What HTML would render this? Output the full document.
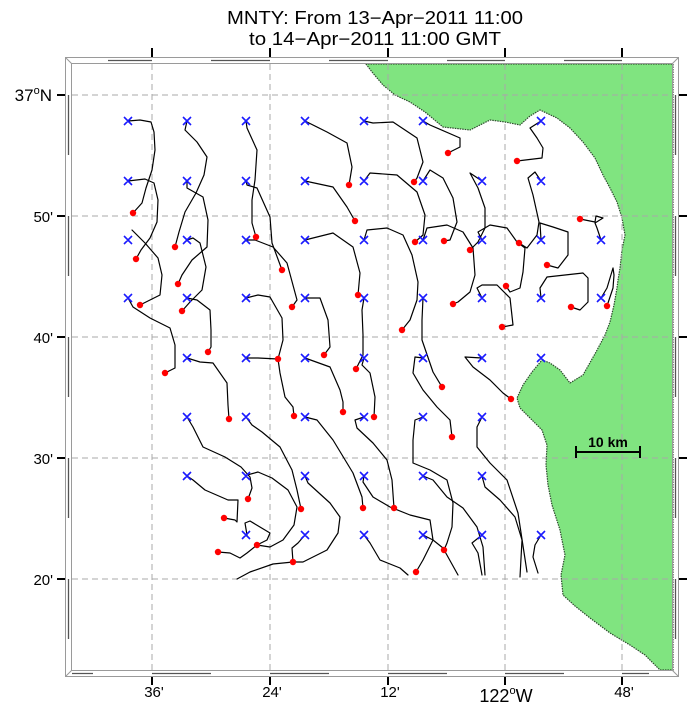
<!DOCTYPE html>
<html><head><meta charset="utf-8"><style>
html,body{margin:0;padding:0;background:#fff;}
svg{display:block;font-family:"Liberation Sans",Arial,sans-serif;}
</style></head><body>
<svg width="691" height="710" viewBox="0 0 691 710" xmlns="http://www.w3.org/2000/svg">
<rect width="691" height="710" fill="#fff"/>
<!-- title -->
<text x="375" y="24" font-size="18" text-anchor="middle" textLength="296" lengthAdjust="spacingAndGlyphs">MNTY: From 13−Apr−2011 11:00</text>
<text x="375" y="45" font-size="18" text-anchor="middle" textLength="252" lengthAdjust="spacingAndGlyphs">to 14−Apr−2011 11:00 GMT</text>

<!-- land -->
<path d="M366,64 L372,72 L383,85 L395,95 L410,102 L425,112 L443,127 L470,130 L490,120 L505,122 L520,125 L530,116 L540,110 L557,118 L570,128 L583,142 L595,158 L603,175 L610,188 L617,202 L622,218 L625,235 L622,250 L620,268 L618,280 L617,288 L614,305 L610,322 L605,335 L596,352 L583,375 L570,383 L560,370 L550,363 L542,360 L532,372 L523,385 L517,398 L520,408 L530,418 L542,430 L547,445 L546,465 L548,485 L552,505 L560,530 L565,555 L561,575 L563,595 L575,606 L590,618 L610,633 L630,645 L645,655 L655,665 L660,670 L673,670 L673,64 Z" fill="#80e480" stroke="#2e4a2e" stroke-width="1.2" stroke-dasharray="1.5,1"/>

<!-- grid -->
<g stroke="#a8a8a8" stroke-width="1" stroke-dasharray="6,4" fill="none">
<path d="M152,64V670M270,64V670M388,64V670M505,64V670M622,64V670"/>
<path d="M72,95H673M72,216H673M72,337H673M72,458H673M72,579H673"/>
</g>

<!-- frame -->
<g fill="none" stroke="#9a9a9a" stroke-width="1">
<rect x="65.5" y="57.5" width="613" height="619"/>
<rect x="71.5" y="63.5" width="601" height="607"/>
<path d="M65.5,57.5L71.5,63.5M678.5,57.5L672.5,63.5M65.5,676.5L71.5,670.5M678.5,676.5L672.5,670.5"/>
</g>
<g stroke="#555" stroke-width="1.3">
<path d="M108,60.5H152M211,60.5H270M329,60.5H388M447,60.5H505M564,60.5H622"/>
<path d="M72,673.5H93M152,673.5H211M270,673.5H329M388,673.5H447M505,673.5H564M622,673.5H649"/>
<path d="M68.5,95V155M68.5,216V276M68.5,337V397M68.5,458V518M68.5,579V639"/>
<path d="M675.5,95V155M675.5,216V276M675.5,337V397M675.5,458V518M675.5,579V639"/>
</g>
<!-- ticks -->
<g stroke="#000" stroke-width="2">
<path d="M152,48V57M270,48V57M388,48V57M505,48V57M622,48V57"/>
<path d="M152,677V685M270,677V685M388,677V685M505,677V685M622,677V685"/>
<path d="M57,95H65M57,216H65M57,337H65M57,458H65M57,579H65"/>
<path d="M679,95H687M679,216H687M679,337H687M679,458H687M679,579H687"/>
</g>
<!-- axis labels -->
<g font-size="15">
<text x="52" y="101" text-anchor="end" font-size="17">37<tspan font-size="11" dy="-7">o</tspan><tspan dy="7">N</tspan></text>
<text x="53" y="222" text-anchor="end">50'</text>
<text x="53" y="343" text-anchor="end">40'</text>
<text x="53" y="464" text-anchor="end">30'</text>
<text x="53" y="585" text-anchor="end">20'</text>
<text x="154" y="697" text-anchor="middle">36'</text>
<text x="272" y="697" text-anchor="middle">24'</text>
<text x="390" y="697" text-anchor="middle">12'</text>
<text x="506" y="702" text-anchor="middle" font-size="18">122<tspan font-size="11" dy="-8">o</tspan><tspan dy="8">W</tspan></text>
<text x="624" y="697" text-anchor="middle">48'</text>
</g>

<!-- trajectories -->
<g fill="none" stroke="#000" stroke-width="1.2" stroke-linejoin="round" stroke-linecap="round">
<polyline points="128,121 140,120 151,122 154,132 155,150 152,170 146,188 142,203 133,213"/>
<polyline points="128,181 145,179 154,183 158,200 157,222 150,238 141,250 136,259"/>
<polyline points="132,230 145,243 158,258 162,275 160,295 150,300 140,305"/>
<polyline points="128,298 133,307 150,318 170,328 175,345 175,368 165,373"/>
<polyline points="187,121 185,130 197,142 207,157 204,175 196,193 185,212 179,232 175,247"/>
<polyline points="187,181 187,188 203,197 208,220 207,247 192,260 182,275 178,284"/>
<polyline points="187,240 193,238 200,243 206,267 202,290 190,302 182,311"/>
<polyline points="187,298 197,300 210,310 211,330 211,347 208,352"/>
<polyline points="187,358 200,362 213,363 227,383 228,405 229,419"/>
<polyline points="246,121 247,128 257,150 255,180 252,200 252,223 256,237"/>
<polyline points="246,181 247,185 257,188 270,217 272,243 282,270"/>
<polyline points="246,240 255,240 273,247 287,263 297,300 292,307"/>
<polyline points="246,298 258,295 270,297 282,318 283,340 278,359"/>
<polyline points="246,358 258,358 278,359 280,373 285,397 293,407 294,416"/>
<polyline points="246,417 252,425 262,432 280,447 292,470 297,490 301,509"/>
<polyline points="187,417 193,427 203,447 225,457 241,467 250,477 252,488 248,499"/>
<polyline points="187,476 193,480 205,490 228,500 238,500 237,522 235,520 224,518"/>
<polyline points="247,475 258,472 272,478 288,490 297,507 294,525 283,540 270,547 257,545"/>
<polyline points="247,535 245,523 250,521 270,533 267,540 257,545 247,553 240,558 230,553 218,552"/>
<polyline points="305,121 327,132 347,143 352,167 349,185"/>
<polyline points="305,181 333,187 347,207 355,221"/>
<polyline points="305,240 333,233 353,247 360,273 358,295"/>
<polyline points="305,298 320,298 328,320 330,347 324,355"/>
<polyline points="305,358 330,367 340,390 343,402 343,412"/>
<polyline points="305,417 317,420 333,440 353,473 362,497 363,508"/>
<polyline points="305,476 308,483 330,503 340,517 338,533 327,550 303,562 293,562 273,564 250,572 237,579"/>
<polyline points="305,535 298,543 292,548 293,562"/>
<polyline points="364,121 373,123 393,122 417,138 423,162 417,178 414,182"/>
<polyline points="364,181 370,173 397,175 417,192 425,215 423,235 415,242"/>
<polyline points="364,240 367,230 387,228 403,235 412,255 418,282 417,300 410,320 402,330"/>
<polyline points="364,298 362,310 363,335 363,355 356,369"/>
<polyline points="364,358 362,365 370,373 375,397 374,417"/>
<polyline points="364,417 355,420 357,428 373,443 387,460 392,480 394,508"/>
<polyline points="364,476 363,482 373,497 390,507 410,515 430,520 433,540 423,560 416,572"/>
<polyline points="364,535 370,543 380,560 400,568 408,575"/>
<polyline points="423,121 430,125 460,138 460,147 448,153"/>
<polyline points="423,181 430,170 443,178 453,198 457,222 450,240 444,241"/>
<polyline points="423,240 427,228 447,225 463,232 473,248 475,275 470,292 458,302 453,304"/>
<polyline points="423,298 422,320 422,340 433,372 442,387"/>
<polyline points="423,358 415,357 413,373 423,390 437,407 450,420 452,437"/>
<polyline points="423,417 415,420 413,440 413,463 430,470 447,480 453,503 452,527 447,543 444,550"/>
<polyline points="423,476 433,480 447,497 463,508 477,527 483,547 485,575"/>
<polyline points="423,535 433,540 443,548 458,575"/>
<polyline points="482,181 470,173 478,188 485,208 485,228 478,242 470,250"/>
<polyline points="482,240 478,232 490,225 507,228 517,242 525,248 523,272 520,288 510,292 506,286"/>
<polyline points="482,298 477,288 482,285 497,285 510,298 513,325 502,327"/>
<polyline points="482,358 465,357 473,367 490,380 503,393 511,399"/>
<polyline points="482,417 477,427 477,447 490,463 507,480 518,513 527,572"/>
<polyline points="482,476 485,487 500,500 515,517 522,540 520,577"/>
<polyline points="482,535 472,543 478,553 482,575"/>
<polyline points="541,121 530,128 537,138 543,148 542,158 517,161"/>
<polyline points="541,181 535,172 528,178 533,195 539,222 537,235 527,248 519,243"/>
<polyline points="541,240 540,223 553,227 568,232 568,255 558,268 547,265"/>
<polyline points="541,298 540,288 547,277 583,273 588,278 588,302 580,310 571,307"/>
<polyline points="601,240 597,228 595,223 603,218 596,216 595,222 590,221 580,219"/>
<polyline points="601,298 607,288 613,268 614,275 613,288 607,306"/>
<polyline points="541,535 535,545 533,557 538,573"/>
</g>

<!-- start markers -->
<g stroke="#1a1aff" stroke-width="1.6" fill="none">
<path id="xs" d="
M124,117l8,8m0,-8l-8,8 M183,117l8,8m0,-8l-8,8 M242,117l8,8m0,-8l-8,8 M301,117l8,8m0,-8l-8,8 M360,117l8,8m0,-8l-8,8 M419,117l8,8m0,-8l-8,8 M537,117l8,8m0,-8l-8,8
M124,177l8,8m0,-8l-8,8 M183,177l8,8m0,-8l-8,8 M242,177l8,8m0,-8l-8,8 M301,177l8,8m0,-8l-8,8 M360,177l8,8m0,-8l-8,8 M419,177l8,8m0,-8l-8,8 M478,177l8,8m0,-8l-8,8 M537,177l8,8m0,-8l-8,8
M124,236l8,8m0,-8l-8,8 M183,236l8,8m0,-8l-8,8 M242,236l8,8m0,-8l-8,8 M301,236l8,8m0,-8l-8,8 M360,236l8,8m0,-8l-8,8 M419,236l8,8m0,-8l-8,8 M478,236l8,8m0,-8l-8,8 M537,236l8,8m0,-8l-8,8 M597,236l8,8m0,-8l-8,8
M124,294l8,8m0,-8l-8,8 M183,294l8,8m0,-8l-8,8 M242,294l8,8m0,-8l-8,8 M301,294l8,8m0,-8l-8,8 M360,294l8,8m0,-8l-8,8 M419,294l8,8m0,-8l-8,8 M478,294l8,8m0,-8l-8,8 M537,294l8,8m0,-8l-8,8 M597,294l8,8m0,-8l-8,8
M183,354l8,8m0,-8l-8,8 M242,354l8,8m0,-8l-8,8 M301,354l8,8m0,-8l-8,8 M360,354l8,8m0,-8l-8,8 M419,354l8,8m0,-8l-8,8 M478,354l8,8m0,-8l-8,8 M537,354l8,8m0,-8l-8,8
M183,413l8,8m0,-8l-8,8 M242,413l8,8m0,-8l-8,8 M301,413l8,8m0,-8l-8,8 M360,413l8,8m0,-8l-8,8 M419,413l8,8m0,-8l-8,8 M478,413l8,8m0,-8l-8,8
M183,472l8,8m0,-8l-8,8 M242,472l8,8m0,-8l-8,8 M301,472l8,8m0,-8l-8,8 M360,472l8,8m0,-8l-8,8 M419,472l8,8m0,-8l-8,8 M478,472l8,8m0,-8l-8,8
M242,531l8,8m0,-8l-8,8 M301,531l8,8m0,-8l-8,8 M360,531l8,8m0,-8l-8,8 M419,531l8,8m0,-8l-8,8 M478,531l8,8m0,-8l-8,8 M537,531l8,8m0,-8l-8,8"/>
</g>

<!-- end dots -->
<g fill="#f00">
<circle cx="133" cy="213" r="3.2"/><circle cx="136" cy="259" r="3.2"/><circle cx="140" cy="305" r="3.2"/>
<circle cx="165" cy="373" r="3.2"/><circle cx="175" cy="247" r="3.2"/><circle cx="178" cy="284" r="3.2"/>
<circle cx="182" cy="311" r="3.2"/><circle cx="208" cy="352" r="3.2"/><circle cx="229" cy="419" r="3.2"/>
<circle cx="256" cy="237" r="3.2"/><circle cx="282" cy="270" r="3.2"/><circle cx="292" cy="307" r="3.2"/>
<circle cx="278" cy="359" r="3.2"/><circle cx="294" cy="416" r="3.2"/><circle cx="301" cy="509" r="3.2"/>
<circle cx="248" cy="499" r="3.2"/><circle cx="224" cy="518" r="3.2"/><circle cx="257" cy="545" r="3.2"/>
<circle cx="218" cy="552" r="3.2"/><circle cx="293" cy="562" r="3.2"/>
<circle cx="349" cy="185" r="3.2"/><circle cx="355" cy="221" r="3.2"/><circle cx="358" cy="295" r="3.2"/>
<circle cx="324" cy="355" r="3.2"/><circle cx="343" cy="412" r="3.2"/><circle cx="363" cy="508" r="3.2"/>
<circle cx="414" cy="182" r="3.2"/><circle cx="415" cy="242" r="3.2"/><circle cx="402" cy="330" r="3.2"/>
<circle cx="356" cy="369" r="3.2"/><circle cx="374" cy="417" r="3.2"/><circle cx="394" cy="508" r="3.2"/>
<circle cx="416" cy="572" r="3.2"/><circle cx="448" cy="153" r="3.2"/><circle cx="444" cy="241" r="3.2"/>
<circle cx="453" cy="304" r="3.2"/><circle cx="442" cy="387" r="3.2"/><circle cx="452" cy="437" r="3.2"/>
<circle cx="444" cy="550" r="3.2"/><circle cx="470" cy="250" r="3.2"/><circle cx="506" cy="286" r="3.2"/>
<circle cx="502" cy="327" r="3.2"/><circle cx="511" cy="399" r="3.2"/><circle cx="517" cy="161" r="3.2"/>
<circle cx="519" cy="243" r="3.2"/><circle cx="547" cy="265" r="3.2"/><circle cx="571" cy="307" r="3.2"/>
<circle cx="580" cy="219" r="3.2"/><circle cx="607" cy="306" r="3.2"/>
</g>

<!-- scale bar -->
<g stroke="#000" stroke-width="2">
<path d="M576,452H640M576,446V458M640,446V458"/>
</g>
<text x="608" y="447" font-size="14" font-weight="bold" text-anchor="middle">10 km</text>
</svg>
</body></html>
